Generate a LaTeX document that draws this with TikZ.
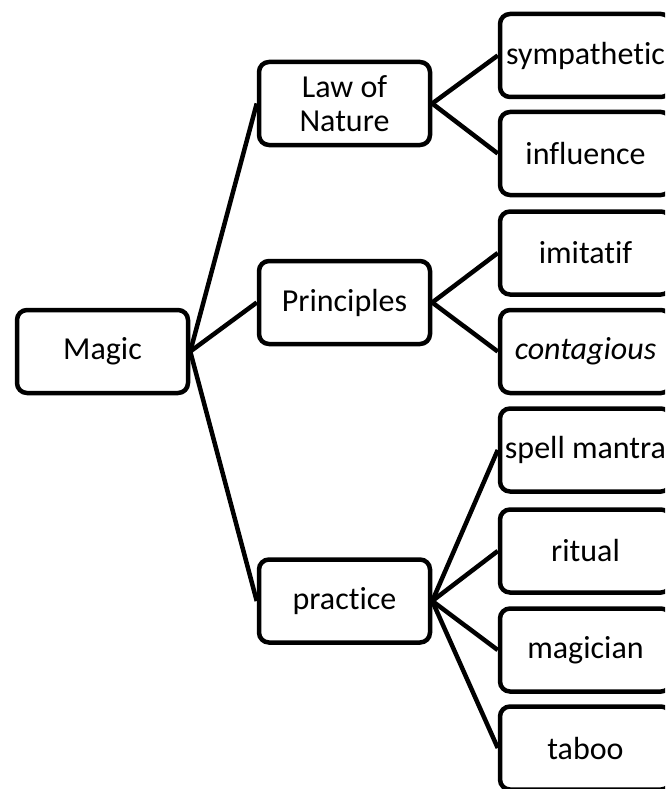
\documentclass[tikz,border=0pt]{standalone}
\usepackage{fontspec}
\setmainfont{Carlito}[Ligatures=NoCommon]

\begin{document}
\begin{tikzpicture}[
    x=1pt, y=-1pt,
    topic/.style={draw, rounded corners=10pt, line width=4.5pt, minimum width=171pt, minimum height=83pt, inner sep=0pt, align=center, font=\fontsize{32}{34}\selectfont},
    link/.style={line width=4.5pt, line join=round}
]
\clip (0,0) rectangle (665,789);

% Root
\node[topic] (magic) at (102.5,351.5) {Magic};

% Second level
\node[topic] (law) at (344.5,103.5) {Law of\\Nature};
\node[topic] (principles) at (344.5,302.5) {Principles};
\node[topic] (practice) at (344.5,601) {practice};

% Leaves
\node[topic] (sympathetic) at (585.5,55.5) {sympathetic};
\node[topic] (influence) at (585.5,153.5) {influence};
\node[topic] (imitatif) at (585.5,253) {imitatif};
\node[topic] (contagious) at (585.5,351.5) {\itshape contagious};
\node[topic] (spell) at (585.5,450) {spell mantra};
\node[topic] (ritual) at (585.5,551) {ritual};
\node[topic] (magician) at (585.5,650) {magician};
\node[topic] (taboo) at (585.5,748) {taboo};

% Connectors
\foreach \child in {law, principles, practice}
    \draw[link] (magic.east) -- (\child.west);
\foreach \child in {sympathetic, influence}
    \draw[link] (law.east) -- (\child.west);
\foreach \child in {imitatif, contagious}
    \draw[link] (principles.east) -- (\child.west);
\foreach \child in {spell, ritual, magician, taboo}
    \draw[link] (practice.east) -- (\child.west);

\end{tikzpicture}
\end{document}
